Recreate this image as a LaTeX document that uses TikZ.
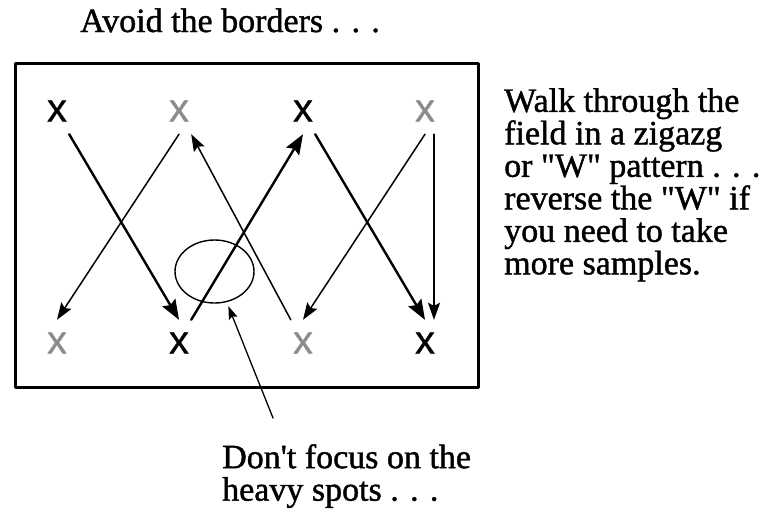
\documentclass[tikz,border=0pt]{standalone}
\usepackage{fontspec}
\setmainfont{Liberation Serif}[Ligatures=TeXOff,FakeBold=1.2]
\newfontfamily\samplefont{Liberation Sans}[FakeBold=0.6]
\usetikzlibrary{arrows.meta,shapes.geometric}
\begin{document}
\begin{tikzpicture}[x=1pt,y=-1pt,line join=round,line cap=round,
    sample/.style={font=\samplefont\fontsize{40}{40}\selectfont,minimum width=24pt,minimum height=46pt,inner sep=0pt},
    faint/.style={text=black!45},
    heavy/.style={line width=2.4pt,-{Stealth[length=20pt,width=15pt,inset=3pt]}},
    light/.style={line width=1.5pt,-{Stealth[length=17pt,width=12pt,inset=3pt]}},
    note/.style={font=\fontsize{34}{32.5}\selectfont,inner sep=0pt,align=left}]

    \useasboundingbox (0,0) rectangle (770,515);

    % the field
    \draw[line width=3pt] (15,63) rectangle (478,387);

    % sampling points
    \node[sample] (t1) at (57,111) {x};
    \node[sample,faint] (t2) at (179,111) {x};
    \node[sample] (t3) at (303,111) {x};
    \node[sample,faint] (t4) at (425,111) {x};
    \node[sample,faint] (b1) at (57,343) {x};
    \node[sample] (b2) at (179,343) {x};
    \node[sample,faint] (b3) at (303,343) {x};
    \node[sample] (b4) at (425,343) {x};

    % the "W" walk and its reverse
    \draw[heavy] (t1.south east) -- (b2.north);
    \draw[heavy] (b2.north east) -- (t3.south);
    \draw[heavy] (t3.south east) -- (b4.north);
    \draw[light] ([xshift=9pt]t4.south) -- ([xshift=9pt]b4.north);
    \draw[light] (t4.south) -- (b3.north);
    \draw[light] (b3.north west) -- (t2.south east);
    \draw[light] (t2.south) -- (b1.north);

    % heavy spot
    \node[draw,ellipse,line width=1.4pt,minimum width=79pt,minimum height=63pt,inner sep=0pt,outer sep=5pt] (spot) at (214.5,271.5) {};

    % notes
    \node[note,anchor=base] (borders) at (230,32) {Avoid the borders . . .};
    \node[note,anchor=north west] (walk) at (504,88) {Walk through the\\field in a zigazg\\or "W" pattern . . .\\reverse the "W" if\\you need to take\\more samples.};
    \node[note,anchor=north west] (focus) at (222,444) {Don't focus on the\\heavy spots . . .};
    \coordinate (tail) at (273,418);
    \draw[line width=1.3pt,-{Stealth[length=13pt,width=9pt,inset=2pt]}] (tail) -- (spot);

\end{tikzpicture}
\end{document}
